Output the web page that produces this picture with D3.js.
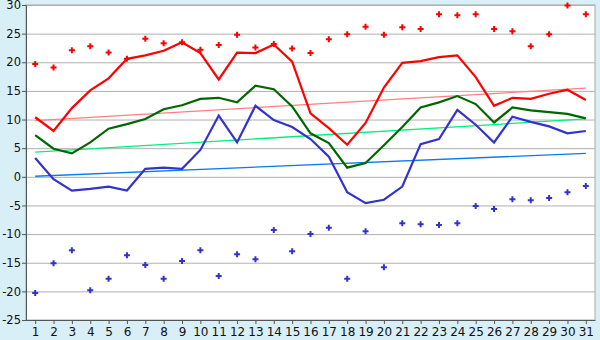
<!DOCTYPE html>
<html>
<head>
<meta charset="utf-8">
<script src="https://cdn.jsdelivr.net/npm/d3@7"></script>
<style>
  body { margin: 0; background: #d9eff7; }
  svg { display: block; }
  .tick text { font-family: "DejaVu Sans", sans-serif; font-size: 12px; fill: #111; }
  .y-axis .tick text { font-size: 11.5px; }
</style>
</head>
<body>
<div id="chart"></div>
<script>
// days of the month
const days = d3.range(1, 32);

// daily max average (red line)
const maxLine = [10.4, 8.0, 12.0, 15.1, 17.2, 20.6, 21.2, 22.0, 23.5, 21.6, 17.0, 21.7, 21.6, 23.1, 20.1, 11.1,
                 8.5, 5.6, 9.4, 15.6, 19.9, 20.2, 20.9, 21.2, 17.4, 12.4, 13.8, 13.6, 14.5, 15.2, 13.4];
// daily mean (green line)
const meanLine = [7.3, 4.9, 4.1, 6.0, 8.4, 9.2, 10.1, 11.8, 12.5, 13.6, 13.8, 13.0, 15.9, 15.3, 12.3, 7.6,
                  5.9, 1.6, 2.4, 5.5, 8.7, 12.1, 13.0, 14.1, 12.7, 9.5, 12.1, 11.6, 11.3, 11.0, 10.2];
// daily min average (blue line)
const minLine = [3.3, -0.4, -2.4, -2.1, -1.7, -2.4, 1.4, 1.6, 1.4, 4.7, 10.7, 6.0, 12.4, 9.9, 8.7, 6.6,
                 3.5, -2.7, -4.6, -4.0, -1.7, 5.7, 6.6, 11.7, 9.1, 6.0, 10.5, 9.6, 8.8, 7.6, 8.0];
// record highs (red points)
const maxRecord = [19.7, 19.1, 22.1, 22.8, 21.7, 20.6, 24.1, 23.3, 23.5, 22.2, 23.0, 24.8, 22.6, 23.2, 22.4, 21.6,
                   24.0, 24.9, 26.2, 24.8, 26.1, 25.8, 28.4, 28.2, 28.4, 25.8, 25.4, 22.8, 24.9, 29.9, 28.4];
// record lows (blue points)
const minRecord = [-20.3, -15.1, -12.8, -19.8, -17.8, -13.7, -15.4, -17.8, -14.7, -12.8, -17.3, -13.5, -14.4, -9.3,
                   -13.0, -10.0, -8.9, -17.8, -9.5, -15.8, -8.1, -8.3, -8.4, -8.1, -5.1, -5.6, -3.9, -4.1, -3.7, -2.7, -1.6];
// trend lines: value on day 1 and day 31
const maxTrend = [9.8, 15.5];
const meanTrend = [4.3, 10.1];
const minTrend = [0.1, 4.1];

const yTicks = d3.range(-25, 31, 5);

const width = 600, height = 340,
      margin = {top: 5, right: 5, bottom: 20, left: 26};

const x = d3.scalePoint()
    .domain(days)
    .range([margin.left, width - margin.right])
    .padding(0.5);

const y = d3.scaleLinear()
    .domain([-25, 30])
    .range([height - margin.bottom, margin.top]);

const svg = d3.select('#chart').append('svg')
    .attr('width', width)
    .attr('height', height);

// plot background
svg.append('rect')
   .attr('x', margin.left)
   .attr('y', margin.top)
   .attr('width', width - margin.right - margin.left)
   .attr('height', height - margin.bottom - margin.top)
   .attr('fill', '#fff')
   .attr('stroke', '#aaa');

// horizontal grid
svg.append('g')
   .attr('transform', `translate(${margin.left},0)`)
   .call(d3.axisLeft(y).tickValues(yTicks)
           .tickSize(-(width - margin.left - margin.right))
           .tickFormat(''))
   .call(g => g.select('.domain').remove())
   .call(g => g.selectAll('line').attr('stroke', '#b0b0b0'));

// trend lines
const trends = [[maxTrend, '#ff8080'], [meanTrend, '#00f080'], [minTrend, '#0a7af0']];
trends.forEach(([t, c]) => {
  svg.append('line')
     .attr('x1', x(days[0])).attr('y1', y(t[0]))
     .attr('x2', x(days[days.length - 1])).attr('y2', y(t[1]))
     .attr('stroke', c).attr('stroke-width', 1.3);
});

// main lines
const line = d3.line().x((d, i) => x(days[i])).y(d => y(d));
[[maxLine, '#ff0000'], [meanLine, '#006600'], [minLine, '#3333cc']].forEach(([s, c]) => {
  svg.append('path')
     .datum(s)
     .attr('fill', 'none')
     .attr('stroke', c)
     .attr('stroke-width', 2.2)
     .attr('d', line);
});

// record points
const sym = d3.symbol().type(d3.symbolCross).size(20);
[[maxRecord, '#ff0000'], [minRecord, '#3333cc']].forEach(([s, c]) => {
  svg.append('g').selectAll('path')
     .data(s)
     .join('path')
       .attr('transform', (d, i) => `translate(${x(days[i])},${y(d)})`)
       .attr('d', sym)
       .attr('fill', c);
});

// axes (plain hyphen for negatives, like the original)
svg.append('g')
   .attr('class', 'y-axis')
   .attr('transform', `translate(${margin.left},0)`)
   .call(d3.axisLeft(y).tickValues(yTicks).tickSize(4).tickPadding(1)
           .tickFormat(d => String(d)))
   .call(g => g.selectAll('line, .domain').attr('stroke', '#555'));

svg.append('g')
   .attr('class', 'x-axis')
   .attr('transform', `translate(0,${height - margin.bottom})`)
   .call(d3.axisBottom(x).tickSize(4).tickPadding(3).tickSizeOuter(0))
   .call(g => g.selectAll('line, .domain').attr('stroke', '#555'));
</script>
</body>
</html>
